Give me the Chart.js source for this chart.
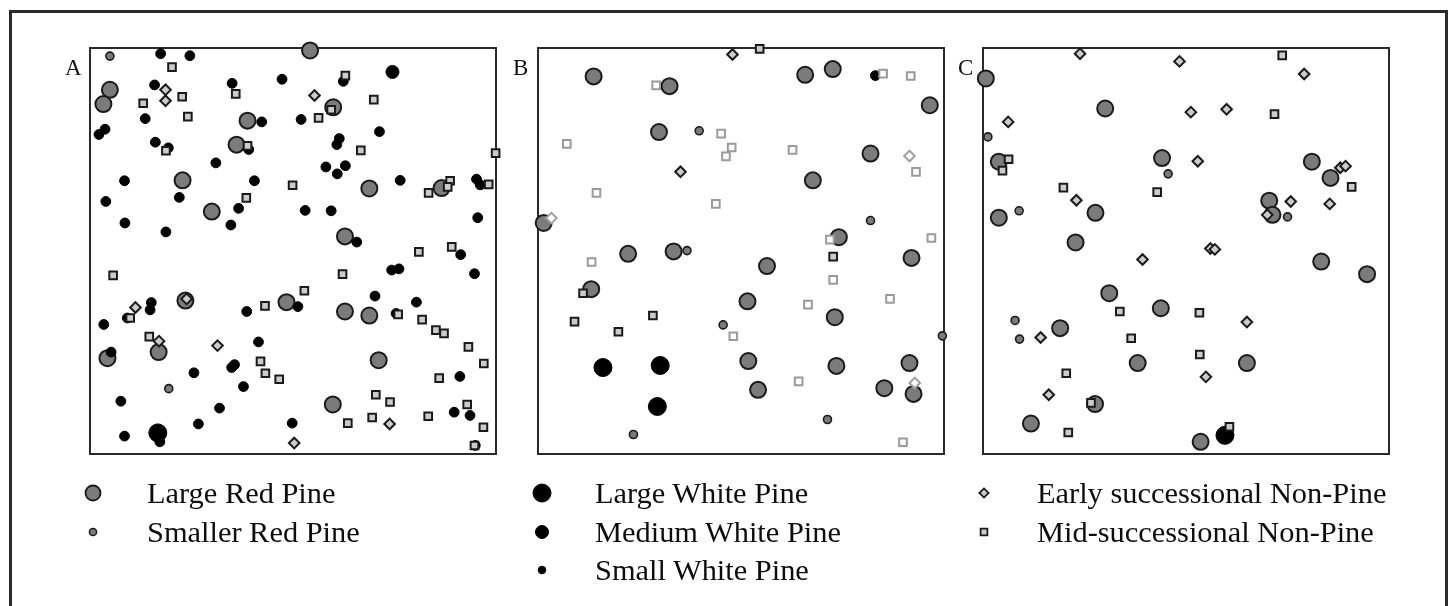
<!DOCTYPE html>
<html>
<head>
<meta charset="utf-8">
<script src="https://cdn.jsdelivr.net/npm/chart.js@4.4.1/dist/chart.umd.min.js"></script>
<style>
  html, body { margin:0; padding:0; background:#fff; width:1453px; height:606px; overflow:hidden; }
  #outer { position:absolute; left:9px; top:10px; width:1439px; height:700px; border:3px solid #2b2b2b; box-sizing:border-box; }
  .panel { position:absolute; width:436px; height:436px; }
  .lbl { position:absolute; font-family:"Liberation Serif","DejaVu Serif",serif; font-size:23px; line-height:1; color:#111; }
  .leg { position:absolute; font-family:"Liberation Serif","DejaVu Serif",serif; font-size:30.4px; line-height:1; color:#0d0d0d; white-space:nowrap; }
  #legMarks { position:absolute; left:0; top:0; }
</style>
</head>
<body>
<div id="outer"></div>
<div class="panel" style="left:75px;top:33px"><canvas id="cA" width="436" height="436"></canvas></div>
<div class="panel" style="left:523px;top:33px"><canvas id="cB" width="436" height="436"></canvas></div>
<div class="panel" style="left:968px;top:33px"><canvas id="cC" width="436" height="436"></canvas></div>
<div class="lbl" style="left:65px;top:56px">A</div>
<div class="lbl" style="left:513px;top:56px">B</div>
<div class="lbl" style="left:958px;top:56px">C</div>
<canvas id="legMarks" width="1453" height="606"></canvas>
<div class="leg" style="left:147px;top:478px">Large Red Pine</div>
<div class="leg" style="left:147px;top:517px">Smaller Red Pine</div>
<div class="leg" style="left:595px;top:478px">Large White Pine</div>
<div class="leg" style="left:595px;top:517px">Medium White Pine</div>
<div class="leg" style="left:595px;top:555px">Small White Pine</div>
<div class="leg" style="left:1037px;top:478px">Early successional Non-Pine</div>
<div class="leg" style="left:1037px;top:517px">Mid-successional Non-Pine</div>
<script>
// Positions within each stand map, in % of plot width (x, from left) and % of plot height (y, from top)
const panelNames = ["A", "B", "C"];
const legendLabels = ["Large Red Pine","Smaller Red Pine","Large White Pine","Medium White Pine","Small White Pine","Early successional Non-Pine","Mid-successional Non-Pine"];

// ---- Panel A ----
const A_largeRedPine = [[54.2,0.6],[4.9,10.3],[3.3,13.8],[38.8,17.9],[36.1,23.8],[59.9,14.6],[22.8,32.6],[30.0,40.3],[68.8,34.6],[86.6,34.5],[62.8,46.4],[23.5,62.2],[48.4,62.6],[62.8,64.9],[68.8,65.9],[4.3,76.4],[16.9,74.9],[71.1,76.9],[59.8,87.8]];
const A_smallerRedPine = [[4.9,2.0],[19.4,83.9]];
const A_largeWhitePine = [[16.7,94.8]];
const A_mediumWhitePine = [[74.5,5.9]];
const A_smallWhitePine = [[17.4,1.4],[24.6,1.9],[15.9,9.1],[35.0,8.7],[47.3,7.7],[62.4,8.2],[13.6,17.4],[42.3,18.2],[52.0,17.6],[3.7,20.0],[2.2,21.3],[16.1,23.2],[19.3,24.6],[39.1,25.0],[61.4,22.3],[60.8,23.8],[71.3,20.6],[31.0,28.3],[58.1,29.3],[62.9,29.0],[60.9,31.0],[8.5,32.7],[40.5,32.7],[76.4,32.6],[95.2,32.3],[96.1,33.7],[3.9,37.8],[22.0,36.8],[36.6,39.5],[53.0,40.0],[59.4,40.1],[95.5,41.8],[8.6,43.1],[34.7,43.6],[18.7,45.3],[65.7,47.8],[91.3,50.9],[94.7,55.6],[74.3,54.7],[76.1,54.4],[70.2,61.1],[80.4,62.6],[15.1,62.7],[14.8,64.5],[38.6,64.9],[51.2,63.7],[3.4,68.1],[9.2,66.5],[5.2,74.9],[41.5,72.4],[34.9,78.7],[35.6,78.0],[25.6,80.0],[37.8,83.4],[75.4,65.4],[91.1,80.9],[7.6,87.0],[31.9,88.7],[26.7,92.6],[49.8,92.4],[89.7,89.7],[93.6,90.5],[8.5,95.6],[17.2,97.0],[94.9,97.9]];
const A_earlyNonPine = [[18.6,10.3],[18.6,13.0],[55.3,11.7],[11.2,63.9],[23.8,61.8],[17.0,72.2],[31.4,73.3],[73.8,92.6],[50.3,97.3]];
const A_earlyNonPineFaint = [];
const A_midNonPine = [[20.2,4.7],[62.9,6.8],[13.1,13.6],[22.7,12.0],[35.9,11.3],[24.1,16.9],[56.3,17.2],[69.9,12.7],[59.4,15.2],[18.7,25.3],[38.8,24.1],[66.7,25.2],[99.9,25.9],[49.9,33.8],[38.5,36.9],[83.4,35.7],[88.7,32.7],[88.1,34.2],[98.2,33.6],[89.1,49.0],[81.0,50.2],[5.7,56.0],[62.2,55.7],[52.8,59.8],[43.1,63.5],[9.9,66.5],[14.6,71.1],[75.9,65.6],[81.8,66.9],[85.2,69.5],[87.2,70.3],[93.2,73.6],[97.0,77.7],[42.0,77.2],[43.2,80.1],[46.6,81.6],[86.0,81.3],[70.4,85.4],[73.9,87.2],[92.9,87.8],[83.3,90.7],[69.5,91.0],[63.5,92.4],[96.9,93.4],[94.7,97.9]];
const A_midNonPineFaint = [];

// ---- Panel B ----
const B_largeRedPine = [[13.7,7.0],[32.4,9.4],[65.8,6.6],[72.6,5.2],[96.5,14.1],[29.8,20.7],[81.9,26.0],[67.7,32.6],[1.4,43.1],[74.1,46.6],[22.2,50.7],[33.4,50.1],[56.4,53.7],[92.0,51.7],[13.1,59.4],[51.6,62.4],[73.1,66.3],[51.8,77.1],[73.5,78.3],[91.5,77.6],[54.2,84.2],[85.3,83.8],[92.5,85.2]];
const B_smallerRedPine = [[39.7,20.4],[81.9,42.5],[36.7,49.9],[99.6,70.9],[71.3,91.5],[23.5,95.2],[45.6,68.2]];
const B_largeWhitePine = [[16.0,78.7],[30.1,78.2],[29.4,88.3]];
const B_mediumWhitePine = [];
const B_smallWhitePine = [[83.1,6.8]];
const B_earlyNonPine = [[47.9,1.6],[35.1,30.5]];
const B_earlyNonPineFaint = [[91.5,26.6],[3.3,41.9],[92.8,82.5]];
const B_midNonPine = [[54.6,0.2],[72.7,51.4],[11.1,60.4],[9.0,67.4],[28.3,65.9],[19.8,69.9]];
const B_midNonPineFaint = [[29.1,9.2],[85.0,6.3],[91.8,6.9],[7.1,23.6],[45.1,21.1],[47.7,24.5],[46.3,26.7],[62.7,25.1],[93.1,30.5],[14.4,35.7],[43.8,38.4],[71.9,47.2],[96.9,46.8],[13.2,52.7],[72.7,57.1],[66.5,63.2],[86.7,61.8],[48.1,71.0],[64.2,82.1],[89.9,97.1]];

// ---- Panel C ----
const C_largeRedPine = [[0.7,7.5],[30.1,14.9],[3.9,28.0],[44.1,27.1],[81.0,28.0],[85.6,32.0],[3.9,41.8],[27.7,40.6],[70.5,37.6],[71.3,41.1],[22.8,47.9],[83.3,52.6],[94.6,55.7],[31.1,60.4],[43.8,64.1],[19.0,69.0],[38.1,77.6],[65.0,77.6],[27.6,87.7],[11.8,92.5],[53.6,97.0]];
const C_smallerRedPine = [[1.2,21.9],[45.6,31.0],[8.9,40.1],[75.0,41.6],[7.9,67.1],[9.0,71.7]];
const C_largeWhitePine = [[59.6,95.4]];
const C_mediumWhitePine = [];
const C_smallWhitePine = [];
const C_earlyNonPine = [[23.9,1.4],[48.4,3.3],[79.1,6.4],[6.2,18.2],[51.2,15.8],[60.0,15.1],[52.9,27.9],[88.0,29.5],[89.3,29.1],[23.0,37.5],[75.8,37.8],[85.4,38.4],[70.0,41.1],[56.0,49.4],[57.1,49.6],[39.3,52.1],[65.0,67.5],[14.2,71.3],[54.9,81.0],[16.2,85.4]];
const C_earlyNonPineFaint = [];
const C_midNonPine = [[73.7,1.8],[71.8,16.3],[6.3,27.4],[4.8,30.2],[19.8,34.4],[42.9,35.5],[90.8,34.2],[33.7,64.9],[53.3,65.2],[36.5,71.5],[53.4,75.5],[20.5,80.1],[26.6,87.4],[21.0,94.7],[60.7,93.3]];
const C_midNonPineFaint = [];

const panels = {
  A: [A_largeRedPine, A_smallerRedPine, A_largeWhitePine, A_mediumWhitePine, A_smallWhitePine, A_earlyNonPine, A_midNonPine, A_earlyNonPineFaint, A_midNonPineFaint],
  B: [B_largeRedPine, B_smallerRedPine, B_largeWhitePine, B_mediumWhitePine, B_smallWhitePine, B_earlyNonPine, B_midNonPine, B_earlyNonPineFaint, B_midNonPineFaint],
  C: [C_largeRedPine, C_smallerRedPine, C_largeWhitePine, C_mediumWhitePine, C_smallWhitePine, C_earlyNonPine, C_midNonPine, C_earlyNonPineFaint, C_midNonPineFaint]
};

// marker styles (index-aligned with the series above)
const GREY = '#7b7b7b', EDGE = '#1a1a1a', LIGHT = '#cccccc';
const styles = [
  {pointStyle:'circle', pointRadius:8,   pointBackgroundColor:GREY,  pointBorderColor:EDGE, pointBorderWidth:2,   order:6},
  {pointStyle:'circle', pointRadius:4,   pointBackgroundColor:GREY,  pointBorderColor:EDGE, pointBorderWidth:1.6, order:5},
  {pointStyle:'circle', pointRadius:9,   pointBackgroundColor:'#000', pointBorderColor:'#000', pointBorderWidth:1, order:4},
  {pointStyle:'circle', pointRadius:6.5, pointBackgroundColor:'#000', pointBorderColor:'#000', pointBorderWidth:1, order:4},
  {pointStyle:'circle', pointRadius:4.9, pointBackgroundColor:'#000', pointBorderColor:'#000', pointBorderWidth:1, order:4},
  {pointStyle:'rectRot', pointRadius:5.3, pointBackgroundColor:LIGHT, pointBorderColor:EDGE, pointBorderWidth:2, order:2},
  {pointStyle:'rect',    pointRadius:5.4, pointBackgroundColor:LIGHT, pointBorderColor:EDGE, pointBorderWidth:2, order:1},
  {pointStyle:'rectRot', pointRadius:5.3, pointBackgroundColor:'#fff', pointBorderColor:'#a0a0a0', pointBorderWidth:2, order:3},
  {pointStyle:'rect',    pointRadius:5.4, pointBackgroundColor:'#fff', pointBorderColor:'#9a9a9a', pointBorderWidth:2, order:3}
];
const seriesLabels = legendLabels.concat(["Early successional Non-Pine (other)","Mid-successional Non-Pine (other)"]);

const framePlugin = {
  id:'plotFrame',
  beforeDatasetsDraw(chart){
    const {ctx, chartArea:a} = chart;
    ctx.save();
    ctx.strokeStyle = '#2a2a2a';
    ctx.lineWidth = 2;
    ctx.strokeRect(a.left, a.top, a.right - a.left, a.bottom - a.top);
    ctx.restore();
  }
};

panelNames.forEach(function(p){
  const series = panels[p];
  const datasets = series.map(function(pts, i){
    return Object.assign({
      label: seriesLabels[i],
      data: pts.map(function(d){ return {x:d[0], y:d[1]}; }),
      showLine:false,
      clip:false,
      pointHoverRadius: styles[i].pointRadius
    }, styles[i]);
  });
  new Chart(document.getElementById('c' + p), {
    type:'scatter',
    data:{datasets:datasets},
    options:{
      responsive:false,
      animation:false,
      events:[],
      devicePixelRatio:1,
      layout:{padding:15},
      plugins:{legend:{display:false}, tooltip:{enabled:false}},
      scales:{
        x:{type:'linear', min:0, max:100, display:false},
        y:{type:'linear', min:0, max:100, reverse:true, display:false}
      }
    },
    plugins:[framePlugin]
  });
});

// legend markers, drawn with Chart.js's own point renderer
const legendMarks = [
  {style:0, x:93,  y:493, r:7.5, w:1.8},
  {style:1, x:93,  y:532, r:3.6, w:1.5},
  {style:2, x:542, y:493, r:9,   w:1},
  {style:3, x:542, y:532, r:6.5, w:1},
  {style:4, x:542, y:570, r:3.8, w:1},
  {style:5, x:984, y:493, r:4.6, w:1.8},
  {style:6, x:984, y:532, r:4.8, w:1.8}
];
const lctx = document.getElementById('legMarks').getContext('2d');
legendMarks.forEach(function(m){
  const s = styles[m.style];
  lctx.save();
  lctx.fillStyle = s.pointBackgroundColor;
  lctx.strokeStyle = s.pointBorderColor;
  lctx.lineWidth = m.w;
  if (Chart.helpers && Chart.helpers.drawPoint) {
    Chart.helpers.drawPoint(lctx, {pointStyle:s.pointStyle, radius:m.r, rotation:0, borderWidth:m.w}, m.x, m.y);
  } else {
    lctx.beginPath(); lctx.arc(m.x, m.y, m.r, 0, Math.PI*2); lctx.fill(); lctx.stroke();
  }
  lctx.restore();
});
</script>
</body>
</html>
